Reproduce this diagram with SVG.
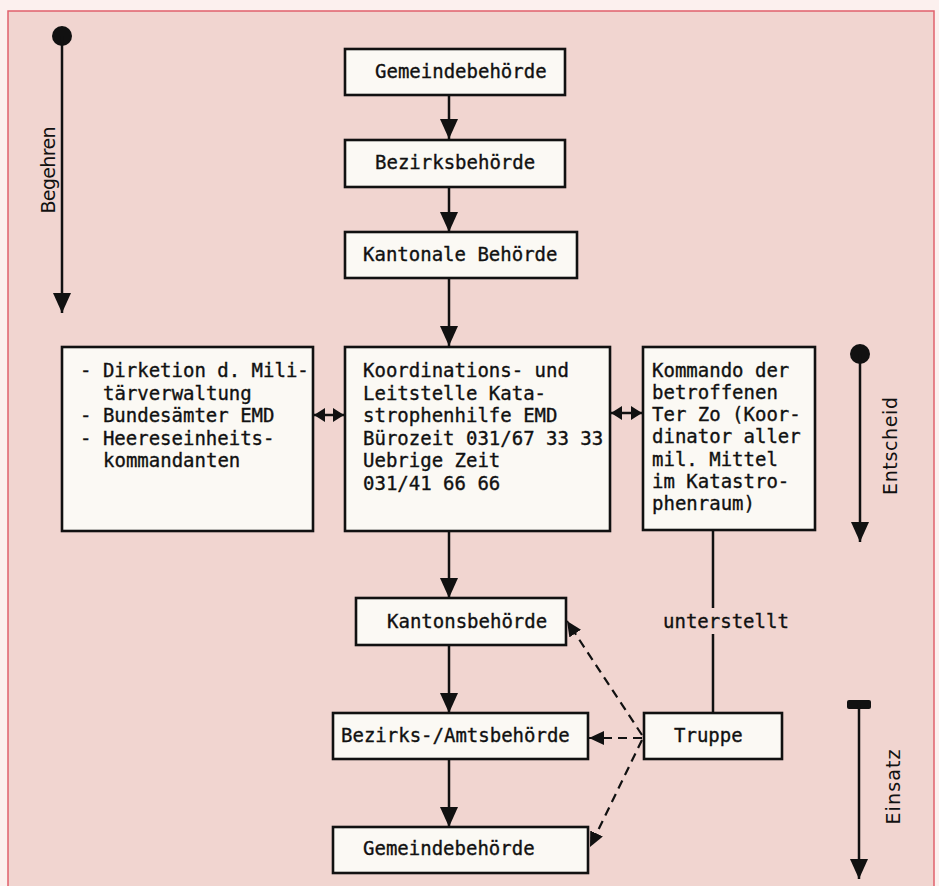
<svg xmlns="http://www.w3.org/2000/svg" width="939" height="886" viewBox="0 0 939 886">
<defs>
<style>
.box{fill:#fbf9f4;stroke:#111;stroke-width:2.6}
.t{font-family:"DejaVu Sans Mono","Liberation Mono",monospace;font-size:19px;fill:#111;stroke:#111;stroke-width:0.35}
.lbl{font-family:"DejaVu Sans","Liberation Sans",sans-serif;font-size:19px;fill:#111;text-anchor:middle}
.ln{stroke:#111;stroke-width:2.5;fill:none}
.dash{stroke:#111;stroke-width:2.2;fill:none;stroke-dasharray:9 6}
</style>
<marker id="ah" markerUnits="userSpaceOnUse" markerWidth="20" markerHeight="18" refX="20" refY="9" orient="auto"><path d="M0,0 L20,9 L0,18 z" fill="#111"/></marker>
<marker id="ahs" markerUnits="userSpaceOnUse" markerWidth="11" markerHeight="14" refX="11" refY="7" orient="auto-start-reverse"><path d="M0,0 L11,7 L0,14 z" fill="#111"/></marker>
<marker id="ahd" markerUnits="userSpaceOnUse" markerWidth="15" markerHeight="14" refX="15" refY="7" orient="auto"><path d="M0,0 L15,7 L0,14 z" fill="#111"/></marker>
</defs>
<rect width="939" height="886" fill="#fcf0ee"/>
<rect x="8" y="11" width="926" height="890" fill="#f1d5d0" stroke="#e0606c" stroke-width="1.5"/>

<g id="connectors">
<line class="ln" x1="449" y1="95" x2="449" y2="139" marker-end="url(#ah)"/>
<line class="ln" x1="449" y1="187" x2="449" y2="232" marker-end="url(#ah)"/>
<line class="ln" x1="449" y1="278" x2="449" y2="346" marker-end="url(#ah)"/>
<line class="ln" x1="449" y1="531" x2="449" y2="598" marker-end="url(#ah)"/>
<line class="ln" x1="449" y1="645" x2="449" y2="713" marker-end="url(#ah)"/>
<line class="ln" x1="449" y1="759" x2="449" y2="827" marker-end="url(#ah)"/>
<line class="ln" x1="314" y1="415" x2="344" y2="415" marker-start="url(#ahs)" marker-end="url(#ahs)"/>
<line class="ln" x1="611" y1="413" x2="642" y2="413" marker-start="url(#ahs)" marker-end="url(#ahs)"/>
<line class="ln" x1="713" y1="530" x2="713" y2="608"/>
<line class="ln" x1="713" y1="634" x2="713" y2="713"/>
<text class="t" x="663" y="628">unterstellt</text>
<line class="dash" x1="642" y1="735" x2="567" y2="621" marker-end="url(#ahd)"/>
<line class="dash" x1="642" y1="738" x2="589" y2="738" marker-end="url(#ahd)"/>
<line class="dash" x1="642" y1="740" x2="590" y2="847" marker-end="url(#ahd)"/>
</g>

<g id="begehren">
<circle cx="62" cy="36" r="10" fill="#111"/>
<line class="ln" x1="62" y1="36" x2="62" y2="313" stroke-width="2" marker-end="url(#ah)"/>
<text class="lbl" transform="translate(55,170) rotate(-90)" textLength="87" lengthAdjust="spacing">Begehren</text>
</g>
<g id="entscheid">
<circle cx="860" cy="354" r="10" fill="#111"/>
<line class="ln" x1="860" y1="354" x2="860" y2="542" stroke-width="2" marker-end="url(#ah)"/>
<text class="lbl" transform="translate(897,446) rotate(-90)" textLength="98" lengthAdjust="spacing">Entscheid</text>
</g>
<g id="einsatz">
<rect x="847" y="700" width="24" height="9" rx="2" fill="#111"/>
<line class="ln" x1="859" y1="704" x2="859" y2="879" stroke-width="2" marker-end="url(#ah)"/>
<text class="lbl" transform="translate(900,787) rotate(-90)" textLength="75" lengthAdjust="spacing">Einsatz</text>
</g>

<g id="gemeinde-top">
<rect class="box" x="345" y="49" width="220" height="46"/>
<text class="t" x="375" y="78">Gemeindebehörde</text>
</g>
<g id="bezirk-top">
<rect class="box" x="345" y="140" width="220" height="47"/>
<text class="t" x="375" y="169">Bezirksbehörde</text>
</g>
<g id="kantonal">
<rect class="box" x="345" y="232" width="232" height="46"/>
<text class="t" x="363" y="261">Kantonale Behörde</text>
</g>
<g id="militaer">
<rect class="box" x="62" y="347" width="251" height="184"/>
<text class="t" x="80" y="377">- Dirketion d. Mili-</text>
<text class="t" x="103" y="399.5">tärverwaltung</text>
<text class="t" x="80" y="422">- Bundesämter EMD</text>
<text class="t" x="80" y="444.5">- Heereseinheits-</text>
<text class="t" x="103" y="467">kommandanten</text>
</g>
<g id="koordination">
<rect class="box" x="345" y="347" width="265" height="184"/>
<text class="t" x="363" y="377">Koordinations- und</text>
<text class="t" x="363" y="399.5">Leitstelle Kata-</text>
<text class="t" x="363" y="422">strophenhilfe EMD</text>
<text class="t" x="363" y="444.5">Bürozeit 031/67 33 33</text>
<text class="t" x="363" y="467">Uebrige Zeit</text>
<text class="t" x="363" y="489.5">031/41 66 66</text>
</g>
<g id="kommando">
<rect class="box" x="643" y="347" width="172" height="183"/>
<text class="t" x="652" y="376.5">Kommando der</text>
<text class="t" x="652" y="398.8">betroffenen</text>
<text class="t" x="652" y="421.1">Ter Zo (Koor-</text>
<text class="t" x="652" y="443.4">dinator aller</text>
<text class="t" x="652" y="465.7">mil. Mittel</text>
<text class="t" x="652" y="488">im Katastro-</text>
<text class="t" x="652" y="510.3">phenraum)</text>
</g>
<g id="kantons">
<rect class="box" x="356" y="598" width="210" height="47"/>
<text class="t" x="387" y="628">Kantonsbehörde</text>
</g>
<g id="bezirks-amts">
<rect class="box" x="333" y="713" width="255" height="46"/>
<text class="t" x="341" y="742">Bezirks-/Amtsbehörde</text>
</g>
<g id="gemeinde-bottom">
<rect class="box" x="333" y="827" width="255" height="46"/>
<text class="t" x="363" y="855">Gemeindebehörde</text>
</g>
<g id="truppe">
<rect class="box" x="644" y="713" width="138" height="46"/>
<text class="t" x="674" y="742">Truppe</text>
</g>
</svg>
